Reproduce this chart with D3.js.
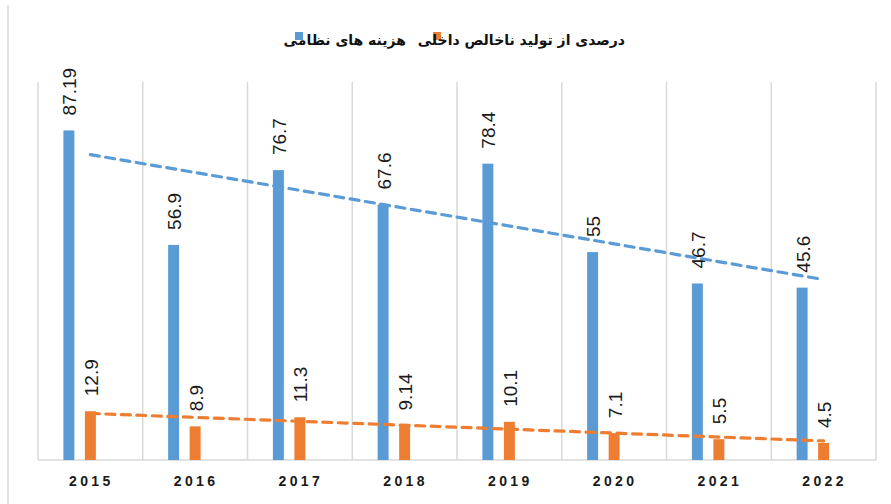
<!DOCTYPE html>
<meta charset="utf-8">
<html>
<script src="https://d3js.org/d3.v7.min.js"></script>
<style>
  body { margin: 0; background: #fff; }
</style>
<div id="chart"></div>
<script>

// data
var years = ["2015", "2016", "2017", "2018", "2019", "2020", "2021", "2022"];
var military = [87.19, 56.9, 76.7, 67.6, 78.4, 55, 46.7, 45.6];
var gdpShare = [12.9, 8.9, 11.3, 9.14, 10.1, 7.1, 5.5, 4.5];
var seriesNames = ["هزینه های نظامی", "درصدی از تولید ناخالص داخلی"];
var colors = ["#5B9BD5", "#ED7D31"];

var width = 891,
    height = 504;

var svg = d3.select("#chart")
  .append("svg")
    .attr("width", width)
    .attr("height", height);

// outer frame edge on the left
svg.append("line")
  .attr("x1", 8).attr("x2", 8)
  .attr("y1", 5).attr("y2", height)
  .attr("stroke", "#e3e3e3")
  .attr("stroke-width", 2);

var x0 = d3.scaleBand()
  .domain(years)
  .range([38, 876]);

// third slot is an empty series (keeps bars left of centre like the original)
var x1 = d3.scaleBand()
  .domain(["a", "b", "empty"])
  .range([0, x0.bandwidth()])
  .paddingInner(0.49)
  .paddingOuter(1.18);

var y = d3.scaleLinear()
  .domain([0, 100])
  .range([460, 82]);

// vertical gridlines
svg.append("g")
  .selectAll("line")
  .data(years.concat(["end"]))
  .enter().append("line")
    .attr("x1", function(d, i) { return i < years.length ? x0(d) : x0.range()[1]; })
    .attr("x2", function(d, i) { return i < years.length ? x0(d) : x0.range()[1]; })
    .attr("y1", y(100))
    .attr("y2", y(0))
    .attr("stroke", "#d9d9d9")
    .attr("stroke-width", 1.5);

// axis line
svg.append("line")
  .attr("x1", x0.range()[0]).attr("x2", x0.range()[1])
  .attr("y1", y(0)).attr("y2", y(0))
  .attr("stroke", "#d9d9d9")
  .attr("stroke-width", 1.5);

var rows = years.map(function(yr, i) {
  return { year: yr, vals: [{ k: "a", v: military[i], c: 0 }, { k: "b", v: gdpShare[i], c: 1 }] };
});

var groups = svg.selectAll("g.grp")
  .data(rows)
  .enter().append("g")
    .attr("class", "grp")
    .attr("transform", function(d) { return "translate(" + x0(d.year) + ",0)"; });

groups.selectAll("rect")
  .data(function(d) { return d.vals; })
  .enter().append("rect")
    .attr("x", function(d) { return x1(d.k); })
    .attr("width", x1.bandwidth())
    .attr("y", function(d) { return y(d.v); })
    .attr("height", function(d) { return y(0) - y(d.v); })
    .attr("fill", function(d) { return colors[d.c]; });

// linear trendlines (least squares over the series)
function trend(vals) {
  var n = vals.length, mx = (n + 1) / 2, my = d3.mean(vals);
  var sxy = 0, sxx = 0;
  vals.forEach(function(v, i) { sxy += (i + 1 - mx) * (v - my); sxx += (i + 1 - mx) * (i + 1 - mx); });
  var b = sxy / sxx, a = my - b * mx;
  return [[years[0], a + b], [years[n - 1], a + b * n]];
}

[military, gdpShare].forEach(function(vals, s) {
  svg.append("path")
    .datum(trend(vals))
    .attr("d", d3.line()
      .x(function(d) { return x0(d[0]) + x0.bandwidth() / 2; })
      .y(function(d) { return y(d[1]); }))
    .attr("fill", "none")
    .attr("stroke", colors[s])
    .attr("stroke-width", 3.2)
    .attr("stroke-linecap", "round")
    .attr("stroke-dasharray", "9,6.5");
});

// rotated value labels
groups.selectAll("text.val")
  .data(function(d) { return d.vals; })
  .enter().append("text")
    .attr("class", "val")
    .attr("transform", function(d) {
      return "translate(" + (x1(d.k) + x1.bandwidth() / 2 + 1) + "," + (y(d.v) - 15) + ") rotate(-90)";
    })
    .attr("text-anchor", "start")
    .attr("dominant-baseline", "central")
    .style("font-family", "Liberation Sans, Arial, sans-serif")
    .style("font-size", "19px")
    .attr("fill", "#1a1a1a")
    .text(function(d) { return d.v; });

// year labels
svg.append("g")
  .selectAll("text")
  .data(years)
  .enter().append("text")
    .attr("x", function(d) { return x0(d) + x0.bandwidth() / 2 + 1; })
    .attr("y", 486)
    .attr("text-anchor", "middle")
    .style("font-family", "Liberation Sans, Arial, sans-serif")
    .style("font-size", "14px")
    .style("font-weight", "bold")
    .style("letter-spacing", "3.4px")
    .attr("fill", "#1a1a1a")
    .text(function(d) { return d; });

// legend: [square][text] pairs
var legendItems = [
  { sx: 295, tx: 406, name: seriesNames[0], c: colors[0] },
  { sx: 433, tx: 625, name: seriesNames[1], c: colors[1] }
];

var legend = svg.selectAll(".legend")
  .data(legendItems)
  .enter().append("g")
    .attr("class", "legend");

legend.append("rect")
  .attr("x", function(d) { return d.sx; })
  .attr("y", 32)
  .attr("width", 8)
  .attr("height", 8)
  .attr("fill", function(d) { return d.c; });

legend.append("text")
  .attr("x", function(d) { return d.tx; })
  .attr("y", 45)
  .attr("text-anchor", "end")
  .style("font-family", "DejaVu Sans, sans-serif")
  .style("font-size", "14px")
  .style("font-weight", "bold")
  .attr("fill", "#111")
  .text(function(d) { return d.name; });

</script>
</html>
